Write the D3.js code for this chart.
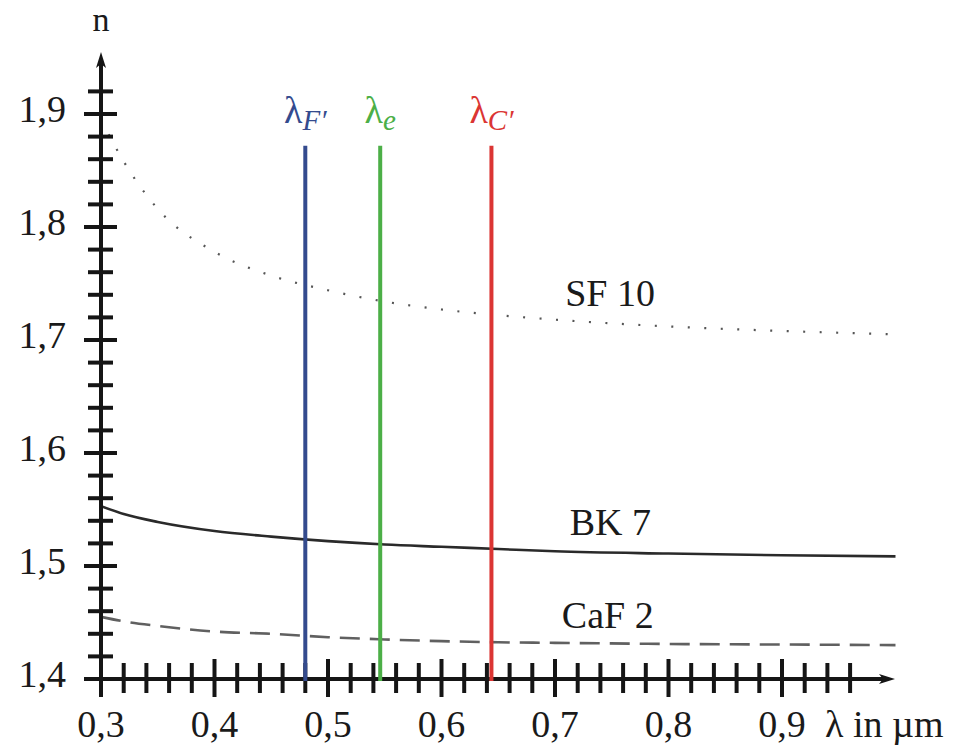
<!DOCTYPE html>
<html lang="de">
<head>
<meta charset="UTF-8">
<title>Brechzahl n über Wellenlänge</title>
<script src="https://d3js.org/d3.v7.min.js"></script>
<style>
  body { margin: 0; background: #fff; overflow: hidden; }
  svg { display: block; background: #fff; }
  svg text { font-family: "Times New Roman", "Liberation Serif", Tinos, "DejaVu Serif", serif; }
</style>
</head>
<body>
<svg width="969" height="748"></svg>
<script>
// wavelengths in µm and refractive index
const wavelengths = [0.30, 0.32, 0.35, 0.40, 0.45, 0.50, 0.55, 0.60, 0.65, 0.70, 0.80, 0.90, 1.00];
const sf10 = [1.895, 1.858, 1.816, 1.778, 1.757, 1.744, 1.734, 1.727, 1.722, 1.718, 1.712, 1.708, 1.705];
const bk7  = [1.553, 1.546, 1.539, 1.531, 1.526, 1.522, 1.519, 1.517, 1.515, 1.513, 1.511, 1.5095, 1.5085];
const caf2 = [1.455, 1.451, 1.447, 1.442, 1.440, 1.437, 1.435, 1.4335, 1.4325, 1.432, 1.431, 1.4305, 1.430];

const glassNames = ["SF 10", "BK 7", "CaF 2"];
const labelLambda = [0.709, 0.713, 0.706];
const labelN = [1.730, 1.5274, 1.445];

// spectral lines
const lineSub = ["F′", "e", "C′"];
const lineLambda = [0.480, 0.546, 0.644];
const lineColors = ["#344b8e", "#4caf47", "#db3533"];

const xTickValues = [0.3, 0.4, 0.5, 0.6, 0.7, 0.8, 0.9];
const xTickLabels = ["0,3", "0,4", "0,5", "0,6", "0,7", "0,8", "0,9"];
const yTickValues = [1.4, 1.5, 1.6, 1.7, 1.8, 1.9];
const yTickLabels = ["1,4", "1,5", "1,6", "1,7", "1,8", "1,9"];

const svg = d3.select("svg");
const x = d3.scaleLinear().domain([0.3, 0.9]).range([101, 782]);
const y = d3.scaleLinear().domain([1.4, 1.9]).range([679, 114]);
const ink = "#151515";
const txt = "#1a1a1a";

// curves
const line = d3.line().x(d => x(d[0])).y(d => y(d[1])).curve(d3.curveMonotoneX);
const series = [
  { vals: sf10, stroke: "#555", width: 2.2, dash: "2 14.5" },
  { vals: bk7,  stroke: "#2a2a2a", width: 2.6, dash: null },
  { vals: caf2, stroke: "#606060", width: 2.6, dash: "20 10" }
];
svg.append("g").selectAll("path").data(series).join("path")
  .attr("d", s => line(wavelengths.map((w, i) => [w, s.vals[i]])))
  .attr("fill", "none")
  .attr("stroke", s => s.stroke)
  .attr("stroke-width", s => s.width)
  .attr("stroke-dasharray", s => s.dash);

svg.append("g").selectAll("text").data(glassNames).join("text")
  .attr("x", (d, i) => x(labelLambda[i]))
  .attr("y", (d, i) => y(labelN[i]))
  .attr("font-size", 38)
  .attr("fill", txt)
  .text(d => d);

// axes
const axes = svg.append("g").attr("stroke", ink).attr("stroke-width", 4);
axes.append("line").attr("x1", 84).attr("x2", 886).attr("y1", y(1.4)).attr("y2", y(1.4));
axes.append("line").attr("x1", x(0.3)).attr("x2", x(0.3)).attr("y1", 697).attr("y2", 62);

const xMinor = d3.range(0.32, 0.97, 0.02).filter(v => Math.abs(Math.round(v * 10) - v * 10) > 0.01);
const yMinor = d3.range(1.42, 1.93, 0.02).filter(v => Math.abs(Math.round(v * 10) - v * 10) > 0.01);

axes.append("g").selectAll("line").data(xTickValues).join("line")
  .attr("x1", d => x(d)).attr("x2", d => x(d))
  .attr("y1", y(1.4) - 20).attr("y2", y(1.4) + 18);
axes.append("g").selectAll("line").data(xMinor).join("line")
  .attr("x1", d => x(d)).attr("x2", d => x(d))
  .attr("y1", y(1.4) - 16).attr("y2", y(1.4) + 14);
axes.append("g").selectAll("line").data(yTickValues).join("line")
  .attr("y1", d => y(d)).attr("y2", d => y(d))
  .attr("x1", x(0.3) - 17).attr("x2", x(0.3) + 16);
axes.append("g").selectAll("line").data(yMinor).join("line")
  .attr("y1", d => y(d)).attr("y2", d => y(d))
  .attr("x1", x(0.3) - 13).attr("x2", x(0.3) + 12);

// arrow heads
svg.append("path")
  .attr("d", `M${x(0.3)},52 L${x(0.3) + 5},68 L${x(0.3)},64 L${x(0.3) - 5},68 Z`)
  .attr("fill", ink);
svg.append("path")
  .attr("d", `M895,${y(1.4)} L879,${y(1.4) - 5} L883,${y(1.4)} L879,${y(1.4) + 5} Z`)
  .attr("fill", ink);

// spectral lines with labels, drawn over the axis
const lineTop = 1.872;
svg.append("g").selectAll("line").data(lineLambda).join("line")
  .attr("x1", d => x(d)).attr("x2", d => x(d))
  .attr("y1", y(lineTop)).attr("y2", y(1.4) + 2)
  .attr("stroke", (d, i) => lineColors[i])
  .attr("stroke-width", 4);

const lbl = svg.append("g").selectAll("text").data(lineLambda).join("text")
  .attr("x", d => x(d))
  .attr("y", y(lineTop) - 23)
  .attr("text-anchor", "middle")
  .attr("font-size", 38)
  .attr("fill", (d, i) => lineColors[i]);
lbl.append("tspan").text("λ");
lbl.append("tspan").text((d, i) => lineSub[i])
  .attr("font-size", 29).attr("font-style", "italic").attr("dy", 7);

// tick labels
svg.append("g").selectAll("text").data(xTickLabels).join("text")
  .attr("x", (d, i) => x(xTickValues[i]))
  .attr("y", 737)
  .attr("text-anchor", "middle")
  .attr("font-size", 38)
  .attr("fill", txt)
  .text(d => d);
svg.append("g").selectAll("text").data(yTickLabels).join("text")
  .attr("x", 66)
  .attr("y", (d, i) => y(yTickValues[i]) + 8)
  .attr("text-anchor", "end")
  .attr("font-size", 38)
  .attr("fill", txt)
  .text(d => d);

svg.append("text").attr("x", 825).attr("y", 737).attr("font-size", 38).attr("fill", txt).text("λ in µm");
svg.append("text").attr("x", x(0.3)).attr("y", 31).attr("text-anchor", "middle").attr("font-size", 34).attr("fill", txt).text("n");
</script>
</body>
</html>
